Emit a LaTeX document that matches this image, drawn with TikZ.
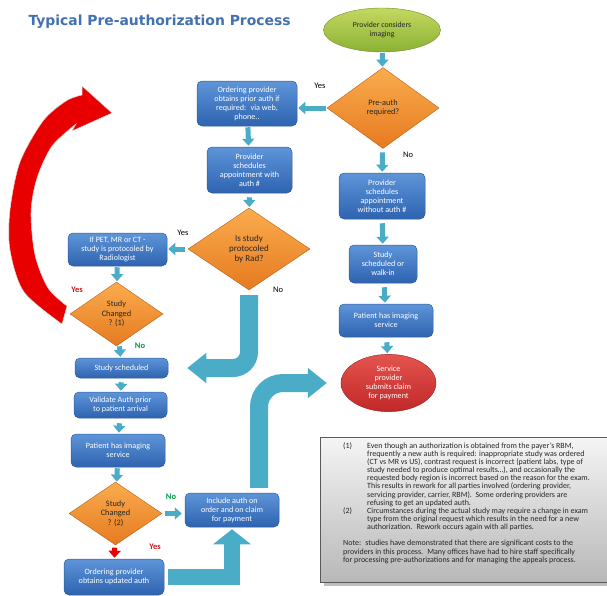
\documentclass[tikz,border=0pt]{standalone}
\usepackage{fontspec}
\setmainfont{Carlito}
\newfontfamily\titlefont{DejaVu Sans}
\usetikzlibrary{arrows.meta, shapes.geometric, calc}
\definecolor{titleblue}{RGB}{66,112,176}
\definecolor{boxtop}{RGB}{94,148,216}
\definecolor{boxbot}{RGB}{46,100,176}
\definecolor{boxline}{RGB}{52,92,150}
\definecolor{dectop}{RGB}{250,172,78}
\definecolor{decbot}{RGB}{230,122,32}
\definecolor{greentop}{RGB}{196,216,96}
\definecolor{greenbot}{RGB}{138,178,52}
\definecolor{redtop}{RGB}{228,84,78}
\definecolor{redbot}{RGB}{192,40,40}
\definecolor{arrcyan}{RGB}{75,172,200}
\definecolor{bigred}{RGB}{232,0,0}
\definecolor{yesred}{RGB}{210,20,20}
\definecolor{nogreen}{RGB}{0,150,70}

\tikzset{
  procbox/.style={rectangle, rounded corners=5pt, draw=boxline, line width=0.5pt,
    top color=boxtop, bottom color=boxbot, text=white, align=center, inner sep=1pt,
    font=\fontsize{8.1}{9}\selectfont},
  decision/.style={diamond, draw=decbot!80!black, line width=0.4pt,
    top color=dectop, bottom color=decbot, text=black!85, align=center, inner sep=0pt,
    font=\fontsize{8.3}{9.5}\selectfont},
  smallarr/.style={draw=arrcyan, line width=5pt, -{Triangle[width=12pt,length=7pt]},
    shorten <=1pt, shorten >=1pt},
  bigarr/.style={draw=arrcyan, line width=18pt, -{Triangle[width=29pt,length=19pt]}},
  lbl/.style={font=\fontsize{8.5}{9}\selectfont},
  yeslbl/.style={font=\bfseries\fontsize{8.5}{9}\selectfont, text=yesred},
  nolbl/.style={font=\bfseries\fontsize{8.5}{9}\selectfont, text=nogreen},
}

\begin{document}
\begin{tikzpicture}[x=1pt,y=-1pt]
\useasboundingbox (0,0) rectangle (607,595);

\node[anchor=west, text=titleblue, font=\titlefont\bfseries\fontsize{13.9}{15}\selectfont] (title) at (25,22) {Typical Pre-authorization Process};

% loop back arrow
\fill[bigred, draw=black!15, line width=0.5pt]
  plot[smooth] coordinates {(62,324) (24,292) (10,250) (10,210) (20,162) (43,121) (66,101) (82,95)}
  -- (82,86) -- (112,113) -- (72,131) -- (76,124)
  -- plot[smooth] coordinates {(76,124) (52,146) (37,178) (31,212) (35,255) (48,288) (67,306)}
  -- cycle;

% right column
\node[ellipse, draw=greenbot!80!black, line width=0.4pt, top color=greentop, bottom color=greenbot,
  minimum width=117, minimum height=44, align=center, text=black!85,
  font=\fontsize{7.8}{9}\selectfont] (start) at (382,30) {Provider considers\\imaging};
\node[decision, minimum width=112, minimum height=81] (preauth) at (383,108) {Pre-auth\\required?};
\node[procbox, minimum width=86, minimum height=46] (schedwo) at (382,196) {Provider\\schedules\\appointment\\without auth \#};
\node[procbox, minimum width=68, minimum height=38] (walkin) at (383,264) {Study\\scheduled or\\walk-in};
\node[procbox, minimum width=94, minimum height=33] (imgR) at (386,320.5) {Patient has imaging\\service};
\node[ellipse, draw=redbot!80!black, line width=0.4pt, top color=redtop, bottom color=redbot,
  minimum width=95, minimum height=53, align=center, text=white,
  font=\fontsize{8.1}{9}\selectfont] (claim) at (388.5,383) {Service\\provider\\submits claim\\for payment};

% middle column
\node[procbox, minimum width=100, minimum height=45] (ordprior) at (247,103.5) {Ordering provider\\obtains prior auth if\\required:~ via web,\\phone..};
\node[procbox, minimum width=85, minimum height=46] (schedwith) at (249.5,170) {Provider\\schedules\\appointment with\\auth \#};
\node[decision, minimum width=122, minimum height=82, font=\fontsize{9}{10}\selectfont] (protoc) at (249,249) {Is study\\protocoled\\by Rad?};
\node[procbox, minimum width=94, minimum height=34] (incl) at (232,510) {Include auth on\\order and on claim\\for payment};

% left column
\node[procbox, minimum width=99, minimum height=33] (pet) at (117.5,249.5) {If PET, MR or CT -\\study is protocoled by\\Radiologist};
\node[decision, minimum width=93, minimum height=64] (chg1) at (116.5,314) {Study\\Changed\\? (1)};
\node[procbox, minimum width=93, minimum height=20] (sched) at (121.5,368) {Study scheduled};
\node[procbox, minimum width=93, minimum height=26] (valid) at (120.5,405) {Validate Auth prior\\to patient arrival};
\node[procbox, minimum width=94, minimum height=33] (imgL) at (118,450.5) {Patient has imaging\\service};
\node[decision, minimum width=93, minimum height=63] (chg2) at (115.5,513.5) {Study\\Changed\\? (2)};
\node[procbox, minimum width=100, minimum height=36] (upd) at (114,577) {Ordering provider\\obtains updated auth};

% small arrows
\draw[smallarr] (start) -- (preauth);
\draw[smallarr] (preauth.west) -- (preauth.west -| ordprior.east);
\draw[smallarr] (ordprior) -- (schedwith);
\draw[smallarr, shorten <=4pt] (preauth) -- (schedwo);
\draw[smallarr, shorten <=4pt] (schedwith) -- (protoc);
\draw[smallarr, shorten <=3pt] (protoc.west) -- (protoc.west -| pet.east);
\draw[smallarr, shorten <=4pt] (schedwo) -- (walkin);
\draw[smallarr, shorten <=4pt] (walkin) -- (imgR);
\draw[smallarr, shorten <=5pt] (imgR) -- (claim);
\draw[smallarr] (pet) -- (chg1);
\draw[smallarr, shorten <=2pt] (chg1) -- (sched);
\draw[smallarr, shorten <=4pt] (sched) -- (valid);
\draw[smallarr, shorten <=5pt] (valid) -- (imgL);
\draw[smallarr] (imgL) -- (chg2);
\draw[smallarr, shorten <=3pt, shorten >=3pt] (chg2.east) -- (chg2.east -| incl.west);
\draw[smallarr, draw=bigred, shorten <=3pt] (chg2) -- (upd);

% big arrows
\draw[bigarr, rounded corners=16pt] ([yshift=-5pt]protoc.south) |- ([xshift=19pt]sched.east);
\draw[bigarr, rounded corners=24pt] ([xshift=27pt,yshift=5pt]incl.north) |- ([xshift=-14pt]claim.west);
\draw[bigarr, line width=16pt, -{Triangle[width=37pt,length=15pt]}] ([xshift=4pt]upd.east) -| ([yshift=-2pt]incl.south);

% labels
\node[lbl] (yes1) at (320,86) {Yes};
\node[lbl] (no1) at (408,155) {No};
\node[lbl] (yes2) at (183,233) {Yes};
\node[lbl] (no2) at (278,290) {No};
\node[yeslbl] (yes3) at (77,290) {Yes};
\node[nolbl] (no3) at (140,346) {No};
\node[nolbl] (no4) at (171,497) {No};
\node[yeslbl] (yes4) at (155,547) {Yes};

% notes
\fill[black!25] (324,441) rectangle (612,586);
\shade[top color=black!4, bottom color=black!28, draw=black!65, line width=0.7pt] (320,437) rectangle (610,582);
\node[anchor=north west, inner sep=0pt, align=left, text=black!85] (notes) at (343,442) {%
\fontsize{7.95}{8.1}\selectfont
\begin{tabular}{@{}p{24pt}@{}l@{}}
(1) & Even though an authorization is obtained from the payer's RBM,\\
 & frequently a new auth is required: inappropriate study was ordered\\
 & (CT vs MR vs US), contrast request is incorrect (patient labs, type of\\
 & study needed to produce optimal results\dots), and occasionally the\\
 & requested body region is incorrect based on the reason for the exam.\\
 & This results in rework for all parties involved (ordering provider,\\
 & servicing provider, carrier, RBM).~ Some ordering providers are\\
 & refusing to get an updated auth.\\
(2) & Circumstances during the actual study may require a change in exam\\
 & type from the original request which results in the need for a new\\
 & authorization.~ Rework occurs again with all parties.\\
 & \\
\multicolumn{2}{@{}l@{}}{Note:~ studies have demonstrated that there are significant costs to the}\\
\multicolumn{2}{@{}l@{}}{providers in this process.~ Many offices have had to hire staff specifically}\\
\multicolumn{2}{@{}l@{}}{for processing pre-authorizations and for managing the appeals process.}
\end{tabular}};
\end{tikzpicture}
\end{document}
